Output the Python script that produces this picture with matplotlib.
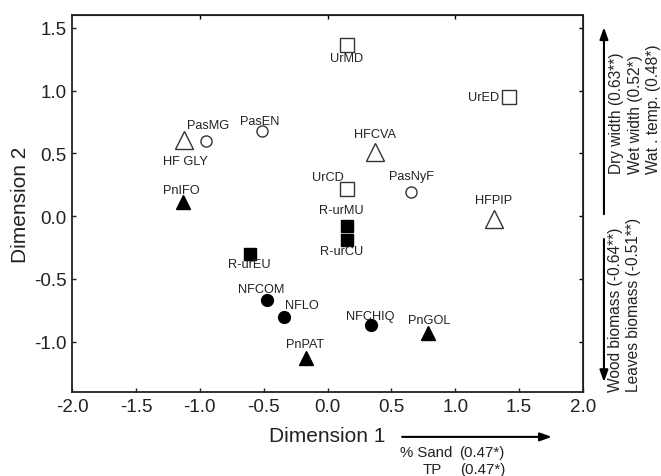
import matplotlib
matplotlib.use("Agg")
from matplotlib import pyplot as plt

plt.rcParams['font.family'] = ['Liberation Sans', 'DejaVu Sans']

# NMDS site scores
site = ["UrMD", "UrED", "HFCVA", "UrCD", "PasNyF", "HFPIP", "R-urMU", "R-urCU",
        "R-urEU", "NFCOM", "NFLO", "PnPAT", "NFCHIQ", "PnGOL", "PasMG", "PasEN",
        "HF GLY", "PnIFO"]
dim1 = [0.15, 1.42, 0.37, 0.15, 0.65, 1.30, 0.15, 0.15,
        -0.61, -0.47, -0.34, -0.17, 0.34, 0.79, -0.95, -0.51,
        -1.12, -1.13]
dim2 = [1.36, 0.95, 0.51, 0.22, 0.19, -0.02, -0.08, -0.19,
        -0.30, -0.67, -0.80, -1.13, -0.87, -0.93, 0.60, 0.68,
        0.61, 0.11]
group = ["open_sq", "open_sq", "open_tri", "open_sq", "open_circ", "open_tri", "fill_sq", "fill_sq",
         "fill_sq", "fill_circ", "fill_circ", "fill_tri", "fill_circ", "fill_tri", "open_circ", "open_circ",
         "open_tri", "fill_tri"]

xticks = [-2.0, -1.5, -1.0, -0.5, 0.0, 0.5, 1.0, 1.5, 2.0]
yticks = [-1.0, -0.5, 0.0, 0.5, 1.0, 1.5]

styles = {
    "open_sq": dict(marker="s", ms=10, mfc="white", mec="#333333"),
    "fill_sq": dict(marker="s", ms=8, mfc="black", mec="black"),
    "open_circ": dict(marker="o", ms=8, mfc="white", mec="#333333"),
    "fill_circ": dict(marker="o", ms=8.5, mfc="black", mec="black"),
    "open_tri": dict(marker="^", ms=13, mfc="white", mec="#333333"),
    "fill_tri": dict(marker="^", ms=10, mfc="black", mec="black"),
}

# label offsets in pixels (dx, dy up), alignment
label_pos = {
    "UrMD": (0, -13, "center"), "UrED": (-10, 0, "right"), "HFCVA": (0, 18, "center"),
    "UrCD": (-19, 12, "center"), "PasNyF": (1, 16, "center"), "HFPIP": (0, 19, "center"),
    "R-urMU": (-5, 16, "center"), "R-urCU": (-5, -11, "center"), "R-urEU": (0, -10, "center"),
    "NFCOM": (-6, 11, "center"), "NFLO": (18, 12, "center"), "PnPAT": (-1, 14, "center"),
    "NFCHIQ": (-1, 9, "center"), "PnGOL": (1, 13, "center"), "PasMG": (2, 16, "center"),
    "PasEN": (-3, 10, "center"), "HF GLY": (1, -21, "center"), "PnIFO": (-2, 12, "center"),
}

fig = plt.figure(figsize=(6.61, 4.77), dpi=100)
ax = fig.add_axes([0.109, 0.176, 0.773, 0.790])

for i in range(len(site)):
    ax.plot(dim1[i], dim2[i], linestyle="none", mew=1.0, **styles[group[i]])
    dx, dy, ha = label_pos[site[i]]
    ax.annotate(site[i], (dim1[i], dim2[i]), xytext=(dx, dy), textcoords="offset pixels",
                ha=ha, va="center", fontsize=9.2, color="#222222")

ax.set_xlim(-2.0, 2.0)
ax.set_ylim(-1.4, 1.6)
ax.set_xticks(xticks)
ax.set_yticks(yticks)
ax.set_xticklabels(["%.1f" % v for v in xticks])
ax.set_yticklabels(["%.1f" % v for v in yticks])
ax.tick_params(direction="in", length=3, width=1, labelsize=13.5, colors="#222222", pad=4)
for s in ax.spines.values():
    s.set_linewidth(1.3)
    s.set_color("#222222")

# extra ticks on top and right
top = ax.secondary_xaxis("top")
top.set_xticks([-1.0, 0.0, 1.0])
top.tick_params(direction="in", length=3, width=1, labeltop=False)
right = ax.secondary_yaxis("right")
right.set_yticks(yticks)
right.tick_params(direction="in", length=3, width=1, labelright=False)

ax.set_xlabel("Dimension 1", fontsize=15, labelpad=8, color="#222222")
ax.set_ylabel("Dimension 2", fontsize=15, labelpad=3, color="#222222")

arrow = dict(arrowstyle="-|>,head_length=0.7,head_width=0.25", color="black", lw=1.5,
             shrinkA=0, shrinkB=0)
ax.annotate("", xy=(1.041, 0.968), xytext=(1.041, 0.472), xycoords="axes fraction",
            arrowprops=arrow, annotation_clip=False)
ax.annotate("", xy=(1.041, 0.0265), xytext=(1.041, 0.406), xycoords="axes fraction",
            arrowprops=arrow, annotation_clip=False)
ax.annotate("", xy=(0.939, -0.119), xytext=(0.646, -0.119), xycoords="axes fraction",
            arrowprops=arrow, annotation_clip=False)

ax.text(1.1018, 0.581, "Dry width (0.63**)\nWet width (0.52*)\nWat . temp. (0.48*)",
        transform=ax.transAxes, rotation=90, ha="center", va="bottom",
        fontsize=11.2, linespacing=1.3, multialignment="left", color="#222222")
ax.text(1.081, 0.003, "Wood biomass (-0.64**)\nLeaves biomass (-0.51**)",
        transform=ax.transAxes, rotation=90, ha="center", va="bottom",
        fontsize=11.2, linespacing=1.3, multialignment="left", color="#222222")

ax.text(0.642, -0.159, "% Sand", transform=ax.transAxes, ha="left", va="center",
        fontsize=10.8, color="#222222")
ax.text(0.757, -0.159, "(0.47*)", transform=ax.transAxes, ha="left", va="center",
        fontsize=10.8, color="#222222")
ax.text(0.687, -0.205, "TP", transform=ax.transAxes, ha="left", va="center",
        fontsize=10.8, color="#222222")
ax.text(0.759, -0.205, "(0.47*)", transform=ax.transAxes, ha="left", va="center",
        fontsize=10.8, color="#222222")

fig.savefig("out.png", dpi=100)
